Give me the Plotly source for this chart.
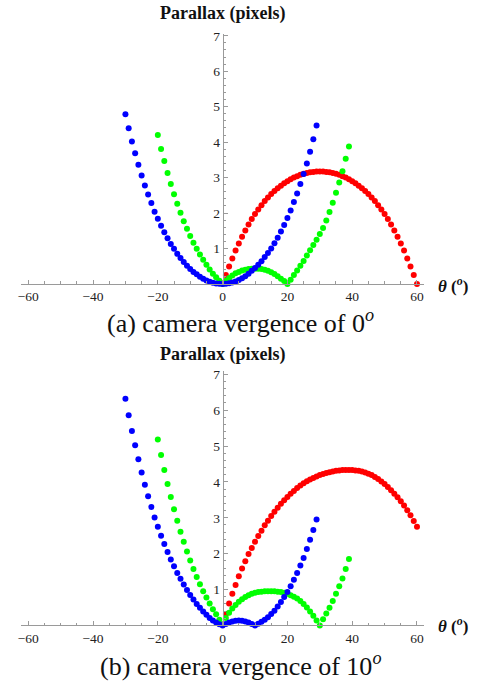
import plotly.graph_objects as go

W, H = 479, 683

# ---------- data ----------
theta_blue = list(range(-30, 30))
theta_green = list(range(-20, 40))
theta_red = list(range(1, 61))

blue_a = [4.79, 4.39, 4.02, 3.69, 3.36, 3.06, 2.78, 2.52, 2.28, 2.04,
          1.84, 1.64, 1.46, 1.29, 1.13, 0.99, 0.85, 0.73, 0.62, 0.51,
          0.42, 0.34, 0.27, 0.20, 0.15, 0.10, 0.065, 0.035, 0.015, 0.004,
          0.0, 0.004, 0.017, 0.04, 0.07, 0.11, 0.16, 0.22, 0.29, 0.37,
          0.45, 0.54, 0.64, 0.76, 0.87, 1.00, 1.15, 1.30, 1.48, 1.66,
          1.86, 2.07, 2.31, 2.55, 2.82, 3.10, 3.40, 3.73, 4.08, 4.47]

green_a = [4.20, 3.81, 3.47, 3.13, 2.82, 2.53, 2.26, 2.01, 1.77, 1.56,
           1.35, 1.16, 0.99, 0.83, 0.68, 0.54, 0.41, 0.29, 0.19, 0.09,
           0.0, 0.09, 0.17, 0.24, 0.30, 0.34, 0.38, 0.40, 0.42, 0.43,
           0.43, 0.43, 0.42, 0.40, 0.37, 0.33, 0.28, 0.22, 0.15, 0.08,
           0.0, 0.12, 0.25, 0.38, 0.51, 0.65, 0.80, 0.95, 1.10, 1.25,
           1.41, 1.58, 1.79, 2.03, 2.29, 2.57, 2.86, 3.18, 3.53, 3.88]

red_a = [0.25, 0.49, 0.72, 0.94, 1.14, 1.33, 1.51, 1.68, 1.83, 1.97,
         2.10, 2.22, 2.34, 2.44, 2.54, 2.62, 2.70, 2.77, 2.84, 2.90,
         2.95, 3.00, 3.04, 3.08, 3.11, 3.13, 3.15, 3.16, 3.17, 3.17,
         3.17, 3.16, 3.15, 3.13, 3.11, 3.08, 3.04, 3.00, 2.95, 2.90,
         2.84, 2.77, 2.70, 2.62, 2.54, 2.44, 2.34, 2.22, 2.10, 1.97,
         1.83, 1.68, 1.51, 1.33, 1.14, 0.94, 0.72, 0.49, 0.25, 0.0]

blue_b = [6.32, 5.86, 5.42, 5.02, 4.63, 4.26, 3.92, 3.60, 3.30, 3.01,
          2.75, 2.50, 2.27, 2.05, 1.84, 1.65, 1.46, 1.30, 1.14, 0.99,
          0.85, 0.72, 0.60, 0.49, 0.39, 0.30, 0.21, 0.14, 0.08, 0.035,
          0.0, 0.04, 0.08, 0.11, 0.13, 0.14, 0.13, 0.11, 0.08, 0.04,
          0.0, 0.05, 0.10, 0.16, 0.23, 0.32, 0.41, 0.53, 0.65, 0.79,
          0.93, 1.09, 1.27, 1.46, 1.67, 1.88, 2.13, 2.39, 2.66, 2.95]

green_b = [5.18, 4.75, 4.33, 3.94, 3.58, 3.24, 2.92, 2.61, 2.33, 2.06,
           1.81, 1.57, 1.35, 1.15, 0.95, 0.78, 0.61, 0.45, 0.31, 0.16,
           0.03, 0.21, 0.35, 0.47, 0.57, 0.66, 0.73, 0.79, 0.84, 0.88,
           0.91, 0.93, 0.94, 0.95, 0.95, 0.95, 0.95, 0.94, 0.93, 0.91,
           0.88, 0.84, 0.80, 0.75, 0.68, 0.60, 0.50, 0.39, 0.27, 0.14,
           0.0, 0.17, 0.33, 0.49, 0.68, 0.88, 1.09, 1.31, 1.57, 1.85]

red_b = [0.32, 0.61, 0.88, 1.13, 1.37, 1.59, 1.79, 1.99, 2.16, 2.33,
         2.49, 2.64, 2.79, 2.92, 3.05, 3.17, 3.28, 3.39, 3.49, 3.58,
         3.67, 3.75, 3.83, 3.90, 3.96, 4.02, 4.07, 4.11, 4.15, 4.19,
         4.22, 4.25, 4.27, 4.29, 4.31, 4.32, 4.33, 4.33, 4.33, 4.33,
         4.32, 4.31, 4.29, 4.26, 4.23, 4.19, 4.14, 4.08, 4.01, 3.94,
         3.86, 3.77, 3.67, 3.57, 3.46, 3.34, 3.21, 3.07, 2.91, 2.75]

x_ticks = [-60, -40, -20, 0, 20, 40, 60]
y_ticks = [1, 2, 3, 4, 5, 6, 7]
captions = ["(a) camera vergence of 0<sup><i>o</i></sup>",
            "(b) camera vergence of 10<sup><i>o</i></sup>"]

# ---------- figure ----------
FONT = "Liberation Serif, Times New Roman, serif"
AX = "#9a9a9a"
fig = go.Figure()

panels = [
    (blue_a, green_a, red_a, "x", "y"),
    (blue_b, green_b, red_b, "x2", "y2"),
]
for b, g, r, xa, ya in panels:
    for xs, ys, col in [(theta_red, r, "#ff0000"),
                        (theta_green, g, "#00ff00"),
                        (theta_blue, b, "#0000ff")]:
        fig.add_trace(go.Scatter(x=xs, y=ys, mode="markers", xaxis=xa, yaxis=ya,
                                 marker=dict(size=6, color=col, line=dict(width=0)),
                                 cliponaxis=False, hoverinfo="skip"))

def px_x(p):
    return p / W

def px_y(p):
    return 1 - p / H

xdom = [px_x(18), px_x(424)]
xr = [-62.27, 62.27]
yaxis_pos = xdom[0] + (0 - xr[0]) / (xr[1] - xr[0]) * (xdom[1] - xdom[0])

common_x = dict(domain=xdom, range=xr, showline=True, linecolor=AX, linewidth=1,
                ticks="inside", ticklen=4, tickcolor=AX, tickwidth=1,
                tickmode="array", tickvals=x_ticks,
                minor=dict(ticks="inside", tickmode="linear", tick0=0, dtick=5,
                           ticklen=2.5, tickcolor=AX, tickwidth=1),
                showgrid=False, zeroline=False, fixedrange=True,
                tickfont=dict(family=FONT, size=13.5, color="#222"))
common_y = dict(anchor="free", position=yaxis_pos, side="left",
                showline=True, linecolor=AX, linewidth=1,
                ticks="inside", ticklen=4, tickcolor=AX, tickwidth=1,
                tickmode="array", tickvals=y_ticks,
                minor=dict(ticks="inside", tickmode="linear", tick0=0, dtick=0.2,
                           ticklen=2.5, tickcolor=AX, tickwidth=1),
                showgrid=False, zeroline=False, fixedrange=True,
                tickfont=dict(family=FONT, size=13.5, color="#222"))

fig.update_layout(
    width=W, height=H, margin=dict(l=0, r=0, t=0, b=0),
    paper_bgcolor="white", plot_bgcolor="white", showlegend=False,
    xaxis=dict(common_x, anchor="y"),
    yaxis=dict(common_y, domain=[px_y(281), px_y(29)], range=[0, (281 - 29) / 35.71]),
    xaxis2=dict(common_x, anchor="y2"),
    yaxis2=dict(common_y, domain=[px_y(625), px_y(369)], range=[0, (625 - 369) / 36.14]),
)

ann = []
for (ylab, yth, ycap, cap) in [(-4, 282, 319, captions[0]), (339, 625, 664, captions[1])]:
    ann.append(dict(x=px_x(221), y=px_y(ylab), xref="paper", yref="paper",
                    text="<b>Parallax (pixels)</b>", showarrow=False,
                    xanchor="center", yanchor="top",
                    font=dict(family=FONT, size=18, color="#111")))
    ann.append(dict(x=px_x(436), y=px_y(yth), xref="paper", yref="paper",
                    text="<b><i>θ</i> (<sup><i>o</i></sup>)</b>", showarrow=False,
                    xanchor="left", yanchor="middle",
                    font=dict(family=FONT, size=17, color="#111")))
    ann.append(dict(x=px_x(238.5), y=px_y(ycap), xref="paper", yref="paper",
                    text=cap, showarrow=False, xanchor="center", yanchor="middle",
                    font=dict(family=FONT, size=26, color="#111")))
fig.update_layout(annotations=ann)

fig.write_html("out.html", config={"displayModeBar": False},
               post_script="document.body.style.margin='0px';document.body.style.overflow='hidden';")
